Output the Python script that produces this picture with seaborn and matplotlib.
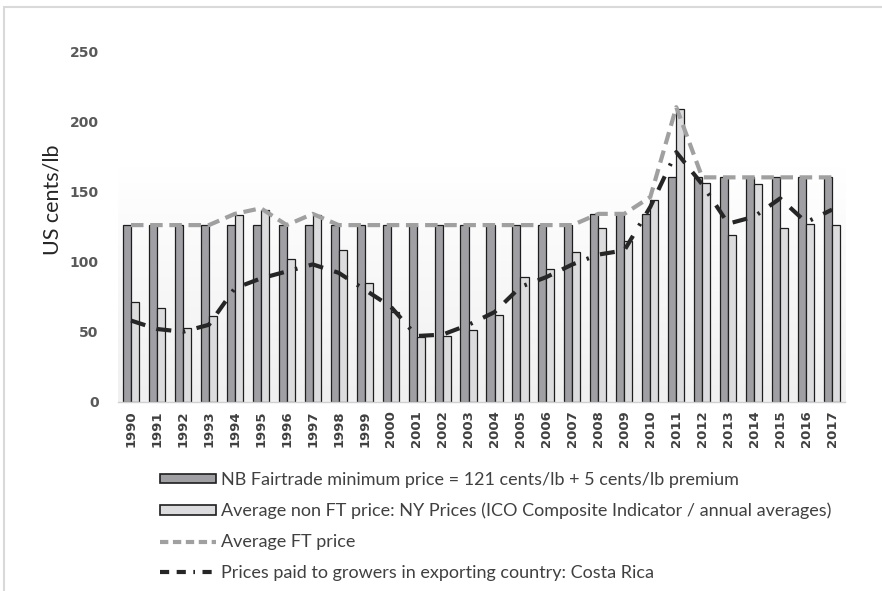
import matplotlib
matplotlib.use('Agg')
import matplotlib.pyplot as plt
from matplotlib.patches import Patch, Rectangle
from matplotlib.lines import Line2D
from matplotlib.colors import LinearSegmentedColormap
import seaborn as sns
import numpy as np
import pandas as pd

# 数据
years = ['1990', '1991', '1992', '1993', '1994', '1995', '1996', '1997', '1998', '1999',
         '2000', '2001', '2002', '2003', '2004', '2005', '2006', '2007', '2008', '2009',
         '2010', '2011', '2012', '2013', '2014', '2015', '2016', '2017']
nb_min = [126, 126, 126, 126, 126, 126, 126, 126, 126, 126,
          126, 126, 126, 126, 126, 126, 126, 126, 134, 134,
          134, 160, 160, 160, 160, 160, 160, 160]
non_ft = [71, 67, 53, 61, 133, 137, 102, 133, 108, 85,
          64, 46, 47, 51, 62, 89, 95, 107, 124, 115,
          144, 209, 156, 119, 155, 124, 127, 126]
avg_ft = [126, 126, 126, 126, 134, 138, 126, 134, 126, 126,
          126, 126, 126, 126, 126, 126, 126, 126, 134, 134,
          146, 210, 160, 160, 160, 160, 160, 160]
costa_rica = [58, 52, 50, 55, 81, 88, 93, 98, 92, 80,
              68, 47, 48, 55, 64, 82, 89, 98, 105, 108,
              139, 178, 155, 127, 132, 145, 128, 137]

lab_nb = 'NB Fairtrade minimum price = 121 cents/lb + 5 cents/lb premium'
lab_non = 'Average non FT price: NY Prices (ICO Composite Indicator / annual averages)'
lab_ft = 'Average FT price'
lab_cr = 'Prices paid to growers in exporting country: Costa Rica'

sns.set_style('white')
plt.rcParams['font.family'] = ['DejaVu Sans']

df = pd.DataFrame({
    'Year': years * 2,
    'Price': nb_min + non_ft,
    'Series': [lab_nb] * len(years) + [lab_non] * len(years),
})

fig = plt.figure(figsize=(8.82, 5.91), dpi=100)
ax = fig.add_axes([0.1338, 0.3198, 0.8243, 0.5939])

# 外框
fig.patches.append(Rectangle((4 / 882, -0.1), 1.2, 1.1 - 7 / 591, transform=fig.transFigure,
                             fill=False, edgecolor='#d9d9d9', linewidth=1.5, zorder=0))

# 绘图区渐变背景
cmap = LinearSegmentedColormap.from_list('bg', ['#f0f0f0', '#ffffff'])
grad = np.linspace(0, 1, 100).reshape(-1, 1)
ax.imshow(grad, cmap=cmap, aspect='auto', origin='lower',
          extent=(-0.5, 27.5, 0, 168), zorder=0)

dark = '#a0a0a4'
light = '#dcdcde'
sns.barplot(data=df, x='Year', y='Price', hue='Series', palette=[dark, light],
            width=0.62, edgecolor='#1e1e1e', linewidth=0.9, errorbar=None,
            legend=False, ax=ax, zorder=2)

xs = np.arange(len(years))
ft_style = (0, (3.0, 1.6))
cr_style = (0, (3.6, 2.8, 3.6, 2.8, 0.6, 2.8))
sns.lineplot(x=xs, y=avg_ft, ax=ax, color='#a0a0a0', linewidth=3, linestyle=ft_style, zorder=3)
sns.lineplot(x=xs, y=costa_rica, ax=ax, color='#262626', linewidth=3, linestyle=cr_style, zorder=4)

ax.set_xlim(-0.5, 27.5)
ax.set_ylim(0, 250)
ax.set_yticks([0, 50, 100, 150, 200, 250])
ax.tick_params(axis='y', length=0, pad=14, labelsize=10, labelcolor='#595959')
ax.tick_params(axis='x', length=0, pad=6, labelsize=9.5, labelcolor='#404040', rotation=90)
for t in ax.get_yticklabels() + ax.get_xticklabels():
    t.set_fontweight('bold')

ax.set_xlabel('')
ax.set_ylabel('US cents/lb', fontsize=15.5, color='#262626', family=['Lato', 'DejaVu Sans'])
ax.yaxis.set_label_coords(-0.077, 0.575)

for s in ['top', 'right', 'left']:
    ax.spines[s].set_visible(False)
ax.spines['bottom'].set_color('#d0d0d0')
ax.spines['bottom'].set_linewidth(1)
ax.set_facecolor('white')

handles = [
    Patch(facecolor=dark, edgecolor='#1e1e1e', linewidth=1.2, label=lab_nb),
    Patch(facecolor=light, edgecolor='#1e1e1e', linewidth=1.2, label=lab_non),
    Line2D([], [], color='#a0a0a0', linewidth=3, linestyle=(0, (2.0, 1.1)), label=lab_ft),
    Line2D([], [], color='#262626', linewidth=3, linestyle=(0, (2.2, 1.8, 2.2, 1.8, 0.4, 1.8)), label=lab_cr),
]
leg = fig.legend(handles=handles, loc='upper left', bbox_to_anchor=(160 / 882, 1 - 472 / 591),
                 frameon=False, handlelength=3.1, handleheight=0.45, handletextpad=0.3,
                 labelspacing=0.82, borderaxespad=0, borderpad=0,
                 prop={'family': ['Lato', 'DejaVu Sans'], 'size': 13})
for t in leg.get_texts():
    t.set_color('#404040')

fig.savefig('out.png', dpi=100)
